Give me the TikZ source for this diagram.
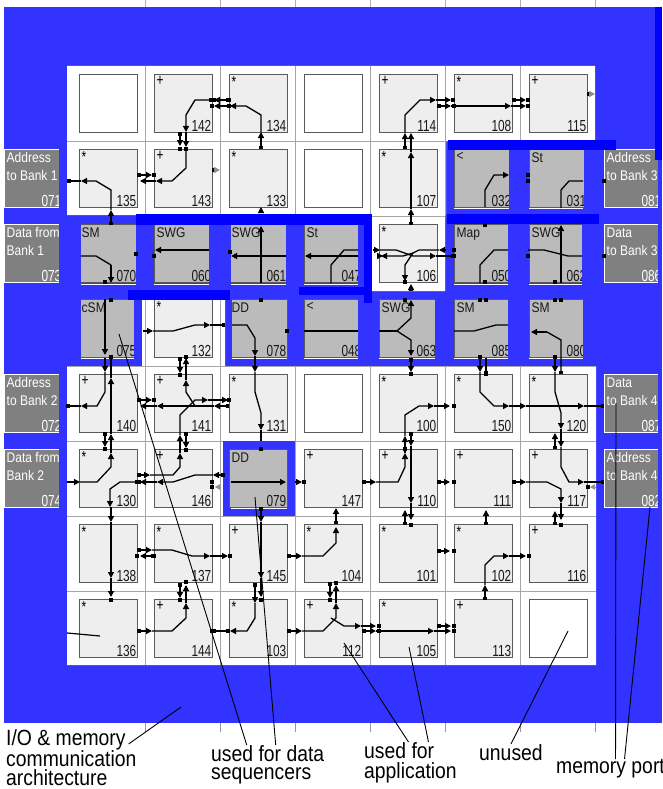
\documentclass[tikz,border=0pt]{standalone}
\usepackage{fontspec}
\setmainfont{Liberation Sans}
\newfontfamily\numfont[FakeStretch=0.74]{Liberation Sans}
\newfontfamily\namefont[FakeStretch=0.86]{Liberation Sans}
\newfontfamily\capfont[FakeStretch=0.88]{Liberation Sans}
\usetikzlibrary{arrows.meta, positioning}
\definecolor{fabric}{RGB}{51,51,255}
\definecolor{seqbar}{RGB}{0,0,255}
\definecolor{tilefill}{RGB}{238,238,238}
\definecolor{seqfill}{RGB}{187,187,187}
\definecolor{portfill}{RGB}{128,128,128}
\definecolor{edge}{RGB}{90,90,90}

\begin{document}
\begin{tikzpicture}[
    x=1pt, y=-1pt,
    node distance=17pt,
    box/.style={rectangle, draw=edge, line width=0.9pt, minimum size=58pt, inner sep=0pt, outer sep=0pt},
    num/.style={anchor=south east, inner sep=1pt, font=\numfont\fontsize{16}{16}\selectfont, text=black!90},
    sym/.style={anchor=north west, inner sep=2pt, font=\numfont\fontsize{16}{16}\selectfont, text=black},
    seqname/.style={anchor=north west, inner sep=2pt, yshift=-1pt, font=\namefont\fontsize{14}{14}\selectfont, text=black!90},
    tile/.style 2 args={box, fill=tilefill, label={[num]south east:#1}, label={[sym]north west:{#2}}},
    seqtile/.style 2 args={box, fill=seqfill, label={[num]south east:#1}, label={[seqname]north west:{#2}}},
    blank/.style={box, fill=white},
    port/.style 2 args={rectangle, draw=white, line width=0.7pt, fill=portfill, minimum size=58pt, inner sep=0pt, outer sep=0pt,
        label={[anchor=north west, inner sep=2pt, yshift=-1pt, align=left, text=white, font=\namefont\fontsize{14}{18}\selectfont]north west:{#1}},
        label={[anchor=south east, inner sep=1pt, text=white, font=\numfont\fontsize{16}{16}\selectfont]south east:#2}},
    ww/.style={line width=1.3pt, -{Triangle[length=6pt,width=6pt]}},
    pw/.style={line width=1.3pt, {Square[length=3.5pt,width=3.5pt]}-{Triangle[length=6pt,width=6pt]}},
    pl/.style={line width=1.3pt, -{Square[length=3.5pt,width=3.5pt]}},
    ll/.style={line width=1.3pt},
    stub/.style={line width=1.3pt, {Square[length=3.5pt,width=3.5pt]}-{Triangle[length=6pt,width=6pt,color=black!45]}},
    ghost/.style={line width=0.6pt, black!45, -{Triangle[length=5pt,width=5.5pt]}},
    leader/.style={line width=0.9pt, black},
    caption/.style={inner sep=0pt, align=left, font=\capfont\fontsize{22}{19}\selectfont}
]
    \useasboundingbox (0,0) rectangle (662,789);
    \fill[fabric] (4,7) rectangle (662,723);
    \foreach \gx in {145,220,...,595} {
        \draw[black!30, line width=0.6pt] (\gx,0) -- (\gx,7);
        \draw[black!40, line width=0.6pt] (\gx,723) -- (\gx,732);
    }

    \fill[white] (67,66) rectangle (595,141) (67,141) rectangle (446,215) (372,215) rectangle (445,291) (142,291) rectangle (225,366) (67,366) rectangle (596,665);
    \begin{scope}
        \clip (67,66) rectangle (595,141) (67,141) rectangle (446,215) (372,215) rectangle (445,291) (142,291) rectangle (225,366) (67,366) rectangle (596,665);
        \foreach \gx in {145,220,...,520} \draw[black!35, line width=0.7pt] (\gx,66) -- (\gx,665);
        \foreach \gy in {141,216,...,591} \draw[black!35, line width=0.7pt] (67,\gy) -- (596,\gy);
    \end{scope}

    \fill[fabric] (223,441) rectangle (295,516);

    \node[blank] (e11) at (108.5,103.5) {};
    \node[tile={142}{+}, right=of e11] (t142) {};
    \node[tile={134}{*}, right=of t142] (t134) {};
    \node[blank, right=of t134] (e14) {};
    \node[tile={114}{+}, right=of e14] (t114) {};
    \node[tile={108}{*}, right=of t114] (t108) {};
    \node[tile={115}{+}, right=of t108] (t115) {};

    \node[tile={135}{*}, below=of e11] (t135) {};
    \node[tile={143}{+}, right=of t135] (t143) {};
    \node[tile={133}{*}, right=of t143] (t133) {};
    \node[blank, right=of t133] (e24) {};
    \node[tile={107}{*}, right=of e24] (t107) {};
    \node[seqtile={032}{<}, right=of t107] (t032) {};
    \node[seqtile={031}{St}, right=of t032] (t031) {};

    \node[seqtile={070}{SM}, below=of t135] (t070) {};
    \node[seqtile={060}{SWG}, right=of t070] (t060) {};
    \node[seqtile={061}{SWG}, right=of t060] (t061) {};
    \node[seqtile={047}{St}, right=of t061] (t047) {};
    \node[tile={106}{*}, right=of t047] (t106) {};
    \node[seqtile={050}{Map}, right=of t106] (t050) {};
    \node[seqtile={062}{SWG}, right=of t050] (t062) {};

    \node[seqtile={075}{cSM}, below=of t070] (t075) {};
    \node[tile={132}{*}, right=of t075] (t132) {};
    \node[seqtile={078}{DD}, right=of t132] (t078) {};
    \node[seqtile={048}{<}, right=of t078] (t048) {};
    \node[seqtile={063}{SWG}, right=of t048] (t063) {};
    \node[seqtile={085}{SM}, right=of t063] (t085) {};
    \node[seqtile={080}{SM}, right=of t085] (t080) {};

    \node[tile={140}{+}, below=of t075] (t140) {};
    \node[tile={141}{+}, right=of t140] (t141) {};
    \node[tile={131}{*}, right=of t141] (t131) {};
    \node[blank, right=of t131] (e54) {};
    \node[tile={100}{*}, right=of e54] (t100) {};
    \node[tile={150}{*}, right=of t100] (t150) {};
    \node[tile={120}{*}, right=of t150] (t120) {};

    \node[tile={130}{*}, below=of t140] (t130) {};
    \node[tile={146}{+}, right=of t130] (t146) {};
    \node[seqtile={079}{DD}, right=of t146] (t079) {};
    \node[tile={147}{+}, right=of t079] (t147) {};
    \node[tile={110}{+}, right=of t147] (t110) {};
    \node[tile={111}{+}, right=of t110] (t111) {};
    \node[tile={117}{+}, right=of t111] (t117) {};

    \node[tile={138}{*}, below=of t130] (t138) {};
    \node[tile={137}{*}, right=of t138] (t137) {};
    \node[tile={145}{+}, right=of t137] (t145) {};
    \node[tile={104}{*}, right=of t145] (t104) {};
    \node[tile={101}{*}, right=of t104] (t101) {};
    \node[tile={102}{*}, right=of t101] (t102) {};
    \node[tile={116}{+}, right=of t102] (t116) {};

    \node[tile={136}{*}, below=of t138] (t136) {};
    \node[tile={144}{+}, right=of t136] (t144) {};
    \node[tile={103}{*}, right=of t144] (t103) {};
    \node[tile={112}{+}, right=of t103] (t112) {};
    \node[tile={105}{*}, right=of t112] (t105) {};
    \node[tile={113}{+}, right=of t105] (t113) {};
    \node[blank, right=of t113] (e87) {};

    % blue over the edges of the sequencer tiles
    \foreach \xa/\xb in {509/514,583.5/589} \fill[fabric] (\xa,148) rectangle (\xb,208.5);
    \foreach \xa/\xb in {78/81,136/141,209/214,228/231,286/289,358/363,508/513,582/588} \fill[fabric] (\xa,223) rectangle (\xb,283.5);
    \foreach \xa/\xb in {78/81,134/139,228/232,358/363,435/439,508/513,583/589} \fill[fabric] (\xa,298) rectangle (\xb,358.5);
    \foreach \xa/\xb/\yy in {81/136/284,154/209/284,231/286/284,304/358/284,454/508/284,529/582/284,81/134/358.5,232/287/358.5,304/358/358.5,379/435/358.5,454/508/358.5,529/583/358.5,454/509/208,529/583/208,231/287/508}
        \draw[white, line width=0.8pt] (\xa,\yy) -- (\xb,\yy);

    \node[port={Address\\to Bank 1}{071}, left=of t135] (p071) {};
    \node[port={Data from\\Bank 1}{073}, left=of t070] (p073) {};
    \node[port={Address\\to Bank 2}{072}, left=of t140] (p072) {};
    \node[port={Data from\\Bank 2}{074}, left=of t130] (p074) {};
    \node[port={Address\\to Bank 3}{081}, right=of t031] (p081) {};
    \node[port={Data\\to Bank 3}{086}, right=of t062] (p086) {};
    \node[port={Data\\to Bank 4}{087}, right=of t120] (p087) {};
    \node[port={Address\\to Bank 4}{082}, right=of t117] (p082) {};
    \fill[fabric] (59,140) rectangle (67,520);
    \fill[fabric] (658,140) rectangle (662,520);

    % top two rows
    \draw[pw] (229,100) -- (214,100);
    \draw[pw] (212,100) -- (195,100) -- (186,115) -- (186,132);
    \draw[ww] (186,132) -- (186,147);
    \draw[ww] (186,147) -- (186,168) -- (172,181) -- (156,181);
    \draw[ww] (156,181) -- (140,181);
    \draw[pw] (180,132) -- (180,146);
    \draw[pw] (137,175) -- (152,175);
    \draw[pw] (261,149) -- (261,132);
    \draw[ww] (261,132) -- (261,115) -- (246,106) -- (230,106);
    \draw[ww] (230,106) -- (214,106);
    \draw[pw] (111,225) -- (111,210);
    \draw[ww] (111,210) -- (111,190) -- (96,181) -- (81,181);
    \draw[pl] (81,181) -- (67,181);
    \draw[stub] (212,170) -- (220,170);
    \draw[pw] (261,213) -- (261,207);
    \draw[pw] (411,225) -- (411,209);
    \draw[ww] (411,209) -- (411,152);
    \draw[ww] (411,152) -- (411,133);
    \draw[pw] (405,149) -- (405,133);
    \draw[ww] (405,133) -- (405,115) -- (420,100) -- (436,100);
    \draw[ww] (436,100) -- (451,100);
    \draw[pw] (437,106) -- (451,106);
    \draw[ww] (451,106) -- (511,106);
    \draw[ww] (511,106) -- (526,106);
    \draw[pw] (512,100) -- (526,100);
    \draw[stub] (587,94) -- (595,94);

    % sequencer rows
    \draw[ww] (485,207) -- (485,190) -- (494,175) -- (509,175);
    \draw[ll] (561,208) -- (561,190) -- (569,181) -- (583,181);
    \draw[ll] (81,256) -- (96,256) -- (111,265);
    \draw[ww] (111,265) -- (111,283);
    \draw[ww] (209,250) -- (155,250);
    \draw[ww] (286,256) -- (231,256);
    \draw[ww] (261,283) -- (261,226);
    \draw[ll] (331,283) -- (331,265) -- (344,250) -- (358,250);
    \draw[ww] (358,256) -- (305,256);
    \draw[ww] (373,250) -- (380,250);
    \draw[ww] (380,250) -- (396,250) -- (413,256) -- (436,256);
    \draw[pl] (436,256) -- (454,256);
    \draw[ww] (380,256) -- (383,256);
    \draw[ww] (445,250) -- (439,250);
    \draw[ww] (439,250) -- (419,250) -- (413,253) -- (405,265) -- (405,281);
    \draw[ww] (413,253) -- (403,256) -- (381,256);
    \draw[pw] (411,291) -- (411,284);
    \draw[ll] (508,250) -- (494,250) -- (480,265) -- (480,283);
    \draw[ll] (528,250) -- (544,250) -- (568,256) -- (582,256);
    \draw[ww] (561,283) -- (561,225);
    \draw[ll] (304,331) -- (358,331);
    \draw[ww] (105,299) -- (105,355);
    \draw[ww] (143,331) -- (153,331);
    \draw[ww] (153,331) -- (173,331) -- (195,325) -- (210,325);
    \draw[pl] (210,325) -- (225,325);
    \draw[ww] (232,325) -- (247,325) -- (255,338) -- (255,356);
    \draw[ww] (255,356) -- (255,372);
    \draw[ww] (255,372) -- (255,392) -- (261,413) -- (261,430);
    \draw[ll] (261,430) -- (261,441);
    \draw[ll] (379,331) -- (397,331);
    \draw[ww] (397,331) -- (411,318) -- (411,300);
    \draw[ww] (397,331) -- (411,340) -- (411,356);
    \draw[ll] (454,331) -- (474,331) -- (496,325) -- (508,325);
    \draw[ww] (547,332) -- (531,332);
    \draw[pl] (547,332) -- (561,340) -- (561,374);
    \draw[pl] (486,358) -- (486,374);
    \draw[ww] (480,358) -- (480,372);
    \draw[ww] (555,358) -- (555,372);

    % lower rows
    \draw[ww] (105,358) -- (105,372);
    \draw[ww] (105,372) -- (105,392) -- (97,406) -- (81,406);
    \draw[pl] (81,406) -- (66,406);
    \draw[ww] (67,482) -- (80,482);
    \draw[ww] (80,482) -- (97,482) -- (111,467) -- (111,453);
    \draw[ww] (111,453) -- (111,434);
    \draw[ww] (111,434) -- (111,378);
    \draw[ll] (111,378) -- (111,358);
    \draw[pw] (105,432) -- (105,447);
    \draw[pw] (137,475) -- (150,475);
    \draw[ww] (150,475) -- (173,475) -- (180,467) -- (180,453);
    \draw[ww] (180,453) -- (180,435);
    \draw[ww] (180,435) -- (180,415) -- (195,400) -- (208,400);
    \draw[ww] (208,400) -- (228,400);
    \draw[pw] (229,406) -- (214,406);
    \draw[ww] (214,406) -- (157,406);
    \draw[ww] (157,406) -- (140,406);
    \draw[pw] (137,400) -- (152,400);
    \draw[ww] (195,406) -- (186,392) -- (186,380);
    \draw[ww] (186,380) -- (186,358);
    \draw[pw] (180,357) -- (180,373);
    \draw[pw] (186,432) -- (186,448);
    \draw[ww] (223,475) -- (213,475);
    \draw[ww] (213,475) -- (195,475) -- (173,482) -- (157,482);
    \draw[ww] (157,482) -- (140,482);
    \draw[pl] (140,482) -- (137,482);
    \draw[ww] (137,482) -- (120,482) -- (110,489) -- (110,507);
    \draw[ww] (111,507) -- (111,522);
    \draw[ww] (111,522) -- (111,578);
    \draw[ww] (111,578) -- (111,597);
    \draw[ghost] (220,487) -- (215,487);
    \draw[ww] (231,482) -- (286,482);
    \draw[ww] (295,482) -- (302,482);
    \draw[pw] (261,507) -- (261,522);
    \draw[ww] (261,522) -- (261,578);
    \draw[ww] (261,578) -- (261,597);
    \draw[pw] (255,583) -- (255,603);
    \draw[ww] (255,603) -- (255,618) -- (247,631) -- (230,631);
    \draw[pl] (230,631) -- (212,631);
    \draw[pw] (362,482) -- (376,482);
    \draw[ww] (376,482) -- (398,482) -- (405,467) -- (405,453);
    \draw[ww] (405,453) -- (405,436);
    \draw[ww] (405,436) -- (405,415) -- (419,406) -- (434,406);
    \draw[ww] (434,406) -- (450,406);
    \draw[pw] (411,358) -- (411,372);
    \draw[pw] (411,432) -- (411,446);
    \draw[ww] (411,446) -- (411,503);
    \draw[ww] (411,503) -- (411,520);
    \draw[pw] (405,525) -- (405,510);
    \draw[pw] (437,482) -- (450,482);
    \draw[ww] (480,372) -- (480,392) -- (494,406) -- (509,406);
    \draw[ww] (509,406) -- (526,406);
    \draw[ww] (526,406) -- (584,406);
    \draw[pl] (584,406) -- (604,406);
    \draw[ww] (555,372) -- (555,392) -- (561,413) -- (561,429);
    \draw[ww] (561,429) -- (561,447);
    \draw[ww] (561,447) -- (561,467) -- (569,482) -- (584,482);
    \draw[pl] (584,482) -- (604,482);
    \draw[pw] (555,449) -- (555,433);
    \draw[pw] (512,482) -- (526,482);
    \draw[ww] (526,482) -- (547,482) -- (561,489) -- (561,503);
    \draw[ww] (561,503) -- (561,520);
    \draw[pw] (555,525) -- (555,511);
    \draw[ghost] (595,487) -- (590,487);
    \draw[pw] (486,525) -- (486,510);
    \draw[pw] (336,524) -- (336,508);
    \draw[pw] (287,556) -- (302,556);
    \draw[ww] (302,556) -- (323,556) -- (336,543) -- (336,527);
    \draw[pw] (137,550) -- (152,550);
    \draw[ww] (152,550) -- (172,550) -- (192,556) -- (210,556);
    \draw[ww] (210,556) -- (228,556);
    \draw[pw] (154,556) -- (140,556);
    \draw[pw] (137,631) -- (152,631);
    \draw[ww] (152,631) -- (172,631) -- (186,618) -- (186,603);
    \draw[ww] (186,603) -- (186,585);
    \draw[pw] (180,583) -- (180,598);
    \draw[pw] (287,631) -- (302,631);
    \draw[ww] (302,631) -- (323,631) -- (336,618) -- (336,603);
    \draw[ww] (336,603) -- (336,585);
    \draw[pw] (330,582) -- (330,598);
    \draw[ww] (331,618) -- (344,626) -- (361,626);
    \draw[ww] (361,626) -- (376,626);
    \draw[pw] (362,631) -- (376,631);
    \draw[ww] (376,631) -- (434,631);
    \draw[ww] (434,631) -- (451,631);
    \draw[pw] (437,626) -- (451,626);
    \draw[pw] (437,551) -- (450,551);
    \draw[pw] (485,600) -- (485,585);
    \draw[ww] (485,585) -- (485,565) -- (494,556) -- (509,556);
    \draw[ww] (509,556) -- (526,556);

    \foreach \px/\py in {105/282,154/256,180/149,186/149,154/175,214/100,212/106,229/100,229/106,230/252,136/254,
        111/300,111/357,261/300,287/331,405/300,480/300,486/300,555/300,561/300,480/357,555/357,
        485/225,485/282,454/250,454/256,528/256,555/282,528/175,528/181,604/181,604/256,405/282,411/374,
        405/449,105/449,154/400,180/375,186/357,229/400,186/450,137/482,223/475,212/482,212/487,588/487,304/482,261/449,
        453/100,454/106,528/100,528/106,454/626,379/626,379/631,454/631,454/482,454/406,486/374,
        111/600,261/600,180/600,186/582,230/556,137/556,154/556,336/583,330/600,411/525,561/525,454/551,529/556,
        228/631,212/631}
        \fill (\px,\py) +(-1.7,-1.7) rectangle +(1.7,1.7);

    \fill[seqbar] (136,214) rectangle (372,225);
    \fill[seqbar] (364,214) rectangle (372,303);
    \fill[seqbar] (299,287) rectangle (372,295);
    \fill[seqbar] (128,290) rectangle (230,300);
    \fill[seqbar] (448,140) rectangle (616,150);
    \fill[seqbar] (447,214) rectangle (599,224);
    \fill[seqbar] (655,7) rectangle (662,160);

    \node[caption, anchor=north west] (capio) at (6,729) {I/O \& memory\\communication\\architecture};
    \node[caption, anchor=north west, font=\capfont\fontsize{22}{18}\selectfont] (capdata) at (211,745) {used for data\\sequencers};
    \node[caption, anchor=north west, font=\capfont\fontsize{22}{20}\selectfont] (capapp) at (364,742) {used for\\application};
    \node[caption, anchor=north west] (capunused) at (479,744) {unused};
    \node[caption, anchor=north west] (capport) at (556,759) {memory port};

    \coordinate (iotip) at (181,707);
    \coordinate (seqtipa) at (119,334);
    \coordinate (seqtipb) at (255,497);
    \coordinate (apptipa) at (344,643);
    \coordinate (apptipb) at (409,647);
    \coordinate (unusedtip) at (568,631);
    \coordinate (porttipa) at (616,403);
    \coordinate (porttipb) at (650,507);
    \coordinate (iowire) at (67,633);
    \coordinate (iowireb) at (100,636);

    \draw[leader] ([xshift=-8pt,yshift=-15pt]capio.north east) -- (iotip);
    \draw[leader] ([xshift=-21pt]capdata.north) -- (seqtipa);
    \draw[leader] ([xshift=8pt]capdata.north) -- (seqtipb);
    \draw[leader] ([xshift=-2pt]capapp.north) -- (apptipa);
    \draw[leader] ([xshift=18pt]capapp.north) -- (apptipb);
    \draw[leader] (capunused.north) -- (unusedtip);
    \draw[leader] ([xshift=5pt]capport.north) -- (porttipa);
    \draw[leader] ([xshift=14pt]capport.north) -- (porttipb);
    \draw[line width=1.2pt] (iowire) -- (iowireb);

\end{tikzpicture}
\end{document}
